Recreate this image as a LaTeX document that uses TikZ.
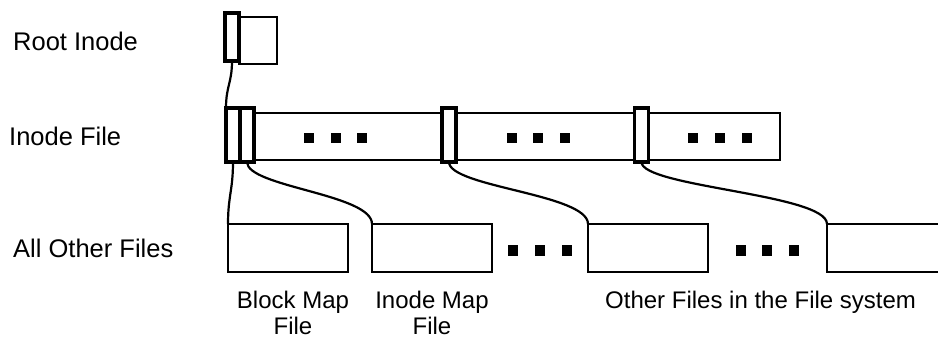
\documentclass[tikz,border=0pt]{standalone}
\usepackage{fontspec}
\setmainfont{Liberation Sans}
\begin{document}
\begin{tikzpicture}[x=1pt,y=-1pt,
  box/.style={draw, line width=2pt, inner sep=0pt, outer sep=0pt, minimum height=47pt},
  slot/.style={draw, fill=white, line width=3.6pt, inner sep=0pt, outer sep=0pt, minimum width=14pt, minimum height=54pt},
  filebox/.style={draw, line width=2pt, inner sep=0pt, outer sep=0pt, minimum width=120pt, minimum height=48pt},
  dotsq/.style={fill=black, inner sep=0pt, outer sep=0pt, minimum width=10pt, minimum height=10.5pt},
  link/.style={draw, line width=2.2pt},
  lbl/.style={inner sep=0pt, anchor=base west, font=\fontsize{25.5}{30}\selectfont},
  sublbl/.style={inner sep=0pt, anchor=north, align=center, font=\fontsize{24}{26}\selectfont}]
\useasboundingbox (0,0) rectangle (938,343);
\clip (0,0) rectangle (938,343);

% labels
\node[lbl] (lroot) at (13,50) {Root Inode};
\node[lbl] (linode) at (9,145) {Inode File};
\node[lbl] (lother) at (13,257) {All Other Files};

% root inode
\node[box, minimum width=38pt] (rbox) at (258,40.5) {};
\node[slot, minimum height=48pt] (rs) at (232,37) {};

% inode file
\node[box, minimum width=555pt] (ibox) at (502.5,136.5) {};
\node[slot] (s1) at (233,135) {};
\node[slot] (s2) at (247,135) {};
\node[slot] (s3) at (449,135) {};
\node[slot] (s4) at (641.5,135) {};

% dots in inode file
\foreach \x [count=\i] in {309,336,362,512,538,565,693,720,747}
  \node[dotsq] (id\i) at (\x,138) {};

% bottom file boxes
\node[filebox] (b1) at (288,248) {};
\node[filebox] (b2) at (432,248) {};
\node[filebox] (b3) at (648,248) {};
\node[filebox] (b4) at (887,248) {};

% dots between files
\foreach \x [count=\i] in {513,540,567,741,767,794}
  \node[dotsq] (bd\i) at (\x,250.5) {};

% connectors
\draw[link] (rs.south) .. controls +(0,22) and +(0,-22) .. (s1.north west);
\draw[link] (s1.south) .. controls +(0,28) and +(0,-28) .. (b1.north west);
\draw[link] (s2.south) .. controls +(0,25) and +(0,-30) .. (b2.north west);
\draw[link] (s3.south) .. controls +(0,25) and +(0,-30) .. (b3.north west);
\draw[link] (s4.south) .. controls +(0,25) and +(0,-30) .. (b4.north west);

% bottom labels
\node[sublbl] (lbm) at (293,291) {Block Map\\File};
\node[sublbl] (lim) at (432,291) {Inode Map\\File};
\node[inner sep=0pt, anchor=base west, font=\fontsize{24}{26}\selectfont] (lof) at (605,308) {Other Files in the File system};
\end{tikzpicture}
\end{document}
